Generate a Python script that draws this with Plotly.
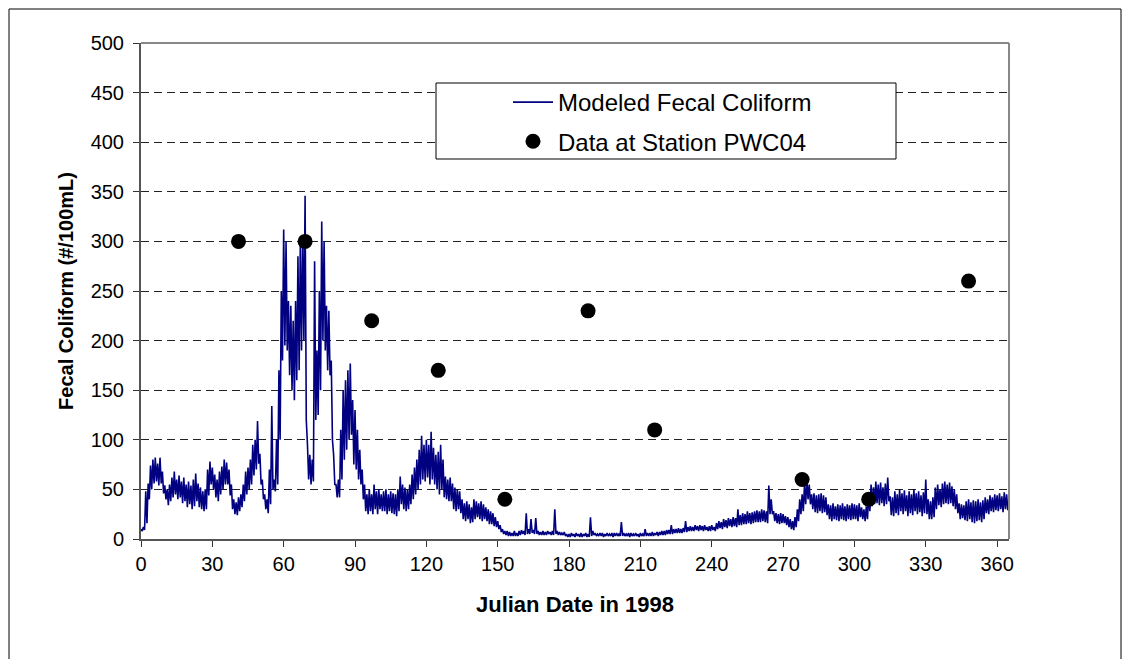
import plotly.graph_objects as go

# Modeled fecal coliform: daily high / low (days 0..365)
model_hi = [
    10, 12, 48, 56, 74, 80, 82, 76, 82, 68,
    54, 50, 55, 62, 68, 60, 64, 58, 62, 55,
    58, 54, 60, 66, 56, 52, 48, 50, 70, 78,
    72, 65, 60, 68, 73, 80, 77, 70, 55, 40,
    37, 42, 45, 55, 68, 72, 80, 95, 100, 119,
    86, 60, 45, 40, 70, 134, 60, 100, 170, 250,
    312, 300, 240, 235, 220, 240, 285, 300, 305, 346,
    95, 85, 80, 280, 190, 250, 320, 300, 235, 230,
    180, 85, 55, 60, 110, 150, 160, 170, 177, 140,
    130, 110, 90, 70, 55, 45, 50, 45, 55, 48,
    50, 45, 48, 50, 45, 48, 46, 45, 50, 63,
    55, 52, 50, 55, 65, 72, 80, 90, 104, 95,
    100, 95, 108, 92, 85, 88, 95, 80, 63, 60,
    62, 56, 52, 50, 48, 40, 36, 38, 35, 32,
    40, 38, 36, 38, 35, 32, 30, 28, 26, 22,
    18, 14, 10, 8, 8, 7, 6, 8, 6, 8,
    9, 8, 26, 10, 20, 9, 21, 8, 7, 8,
    7, 8, 7, 8, 30, 8, 7, 6, 7, 5,
    5, 6, 5, 6, 5, 6, 5, 6, 5, 22,
    8, 6, 5, 6, 6, 5, 6, 5, 6, 6,
    6, 5, 17, 6, 5, 6, 6, 5, 6, 5,
    6, 5, 10, 6, 6, 7, 6, 7, 7, 8,
    8, 9, 9, 14, 10, 10, 11, 10, 11, 18,
    12, 13, 12, 14, 13, 14, 13, 14, 12, 13,
    14, 12, 16, 18, 17, 20, 19, 21, 20, 22,
    21, 30, 24, 26, 25, 28, 26, 27, 28, 29,
    28, 30, 29, 28, 54, 40, 28, 26, 25, 26,
    25, 23, 22, 20, 18, 22, 30, 40, 45, 55,
    60, 55, 45, 46, 44, 45, 46, 44, 42, 35,
    34, 36, 33, 35, 34, 36, 33, 35, 34, 36,
    35, 34, 36, 32, 30, 33, 45, 55, 52, 58,
    55, 57, 52, 56, 62, 43, 42, 48, 45, 50,
    46, 49, 44, 48, 45, 50, 46, 48, 44, 47,
    60, 40, 38, 42, 52, 55, 50, 56, 58, 55,
    57, 53, 50, 45, 36, 35, 34, 38, 40, 37,
    39, 38, 40, 37, 39, 42, 40, 44, 42, 45,
    44, 46, 43, 47, 45, 40,
]
model_lo = [
    8, 9, 16, 40, 50, 56, 58, 54, 56, 46,
    40, 34, 38, 42, 45, 40, 42, 36, 38, 32,
    35, 30, 33, 38, 32, 30, 28, 30, 44, 55,
    50, 42, 38, 45, 50, 55, 55, 44, 30, 25,
    24, 28, 32, 38, 45, 50, 55, 64, 70, 76,
    55, 40, 30, 26, 35, 50, 48, 55, 100, 180,
    195, 190, 165, 150, 140, 160, 170, 190, 200, 120,
    60, 55, 58, 120, 125, 150, 200, 190, 170, 165,
    100, 55, 42, 42, 60, 80, 90, 100, 105, 75,
    70, 60, 55, 40, 28, 25, 28, 25, 30, 25,
    30, 28, 28, 25, 28, 26, 25, 23, 28, 35,
    30, 28, 30, 35, 40, 45, 50, 55, 60, 58,
    62, 55, 60, 55, 50, 45, 50, 42, 40, 38,
    38, 30, 28, 30, 26, 20, 18, 20, 16, 17,
    20, 22, 20, 18, 20, 18, 15, 15, 13, 12,
    10, 7, 5, 4, 3, 3, 3, 3, 3, 4,
    5, 4, 5, 5, 6, 5, 5, 4, 4, 4,
    4, 5, 4, 4, 5, 4, 4, 4, 3, 2,
    2, 3, 2, 3, 2, 2, 3, 2, 2, 3,
    4, 3, 3, 3, 2, 3, 3, 3, 2, 3,
    3, 3, 3, 3, 3, 2, 3, 3, 3, 2,
    3, 3, 3, 3, 3, 3, 4, 3, 4, 4,
    4, 5, 5, 5, 6, 6, 6, 6, 7, 7,
    8, 8, 8, 9, 8, 9, 8, 9, 8, 8,
    9, 8, 10, 11, 10, 12, 11, 13, 12, 13,
    12, 14, 14, 15, 15, 16, 15, 16, 17, 17,
    17, 18, 17, 16, 25, 25, 18, 16, 15, 16,
    16, 14, 12, 10, 9, 12, 18, 25, 28, 35,
    40, 35, 30, 27, 26, 28, 26, 27, 24, 20,
    18, 20, 19, 18, 20, 19, 18, 20, 19, 20,
    20, 18, 22, 20, 18, 20, 28, 33, 35, 36,
    34, 36, 33, 35, 38, 24, 23, 26, 24, 28,
    25, 28, 23, 26, 24, 28, 25, 27, 23, 26,
    25, 20, 20, 22, 30, 34, 32, 35, 36, 35,
    36, 33, 30, 26, 20, 21, 19, 18, 20, 17,
    16, 18, 19, 17, 20, 26, 25, 28, 27, 29,
    28, 30, 27, 30, 29, 26,
]

# Observed data at station PWC04
obs_day = [41, 69, 97, 125, 153, 188, 216, 278, 306, 348]
obs_val = [300, 300, 220, 170, 40, 230, 110, 60, 40, 260]

x_ticks = list(range(0, 361, 30))
y_ticks = list(range(0, 501, 50))

# build the modeled line (high then low within each day)
mx, my = [], []
for d, (h, l) in enumerate(zip(model_hi, model_lo)):
    mx += [d, d + 0.5]
    my += [h, l]

FONT = "Liberation Sans, Arial, sans-serif"

fig = go.Figure()
fig.add_trace(go.Scatter(
    x=mx, y=my, mode="lines", name="Modeled Fecal Coliform",
    line=dict(color="#000080", width=1.6), legendgroup="a",
))
fig.add_trace(go.Scatter(
    x=obs_day, y=obs_val, mode="markers", name="Data at Station PWC04",
    marker=dict(color="black", size=15), legendgroup="b",
))

W, H = 1130, 659
L, R, T, B = 141, 1009, 43, 539
pw, ph = R - L, B - T

def px(xp):
    return (xp - L) / pw

def py(yp):
    return (B - yp) / ph

fig.update_layout(
    width=W, height=H,
    margin=dict(l=L, r=W - R, t=T, b=H - B, pad=0),
    paper_bgcolor="white", plot_bgcolor="white",
    showlegend=True,
    legend=dict(
        x=px(508), y=py(80), xanchor="left", yanchor="top",
        bgcolor="rgba(0,0,0,0)", borderwidth=0,
        font=dict(family=FONT, size=24, color="black"),
        tracegroupgap=5, itemwidth=40,
    ),
    xaxis=dict(
        range=[0, 365], tickvals=x_ticks, ticks="outside", ticklen=6,
        tickcolor="#333", tickwidth=1,
        showline=True, linecolor="#555", linewidth=2, mirror=False,
        showgrid=False, zeroline=False,
        tickfont=dict(family=FONT, size=20, color="black"),
        title=dict(text="<b>Julian Date in 1998</b>", standoff=23,
                   font=dict(family=FONT, size=22, color="black")),
    ),
    yaxis=dict(
        range=[0, 500], tickvals=y_ticks, ticks="outside", ticklen=6,
        tickcolor="#333", tickwidth=1, ticklabelstandoff=5,
        showline=True, linecolor="#555", linewidth=2,
        showgrid=True, gridcolor="#222", gridwidth=1, griddash="8px,5px",
        zeroline=False,
        tickfont=dict(family=FONT, size=20, color="black"),
        title=dict(text="<b>Fecal Coliform (#/100mL)</b>", standoff=12,
                   font=dict(family=FONT, size=20, color="black")),
    ),
    shapes=[
        # plot area border (top & right, gray)
        dict(type="line", xref="paper", yref="paper", x0=0, x1=1, y0=1, y1=1,
             line=dict(color="#888", width=2), layer="above"),
        dict(type="line", xref="paper", yref="paper", x0=1, x1=1, y0=0, y1=1,
             line=dict(color="#888", width=2), layer="above"),
        # legend box
        dict(type="rect", xref="paper", yref="paper",
             x0=px(436), x1=px(896), y0=py(159), y1=py(83),
             fillcolor="white", line=dict(color="black", width=1), layer="above"),
        # outer chart border
        dict(type="rect", xref="paper", yref="paper",
             x0=px(9), x1=px(1121), y0=py(670), y1=py(9),
             fillcolor="rgba(0,0,0,0)", line=dict(color="black", width=1)),
    ],
)

fig.write_html("out.html")
